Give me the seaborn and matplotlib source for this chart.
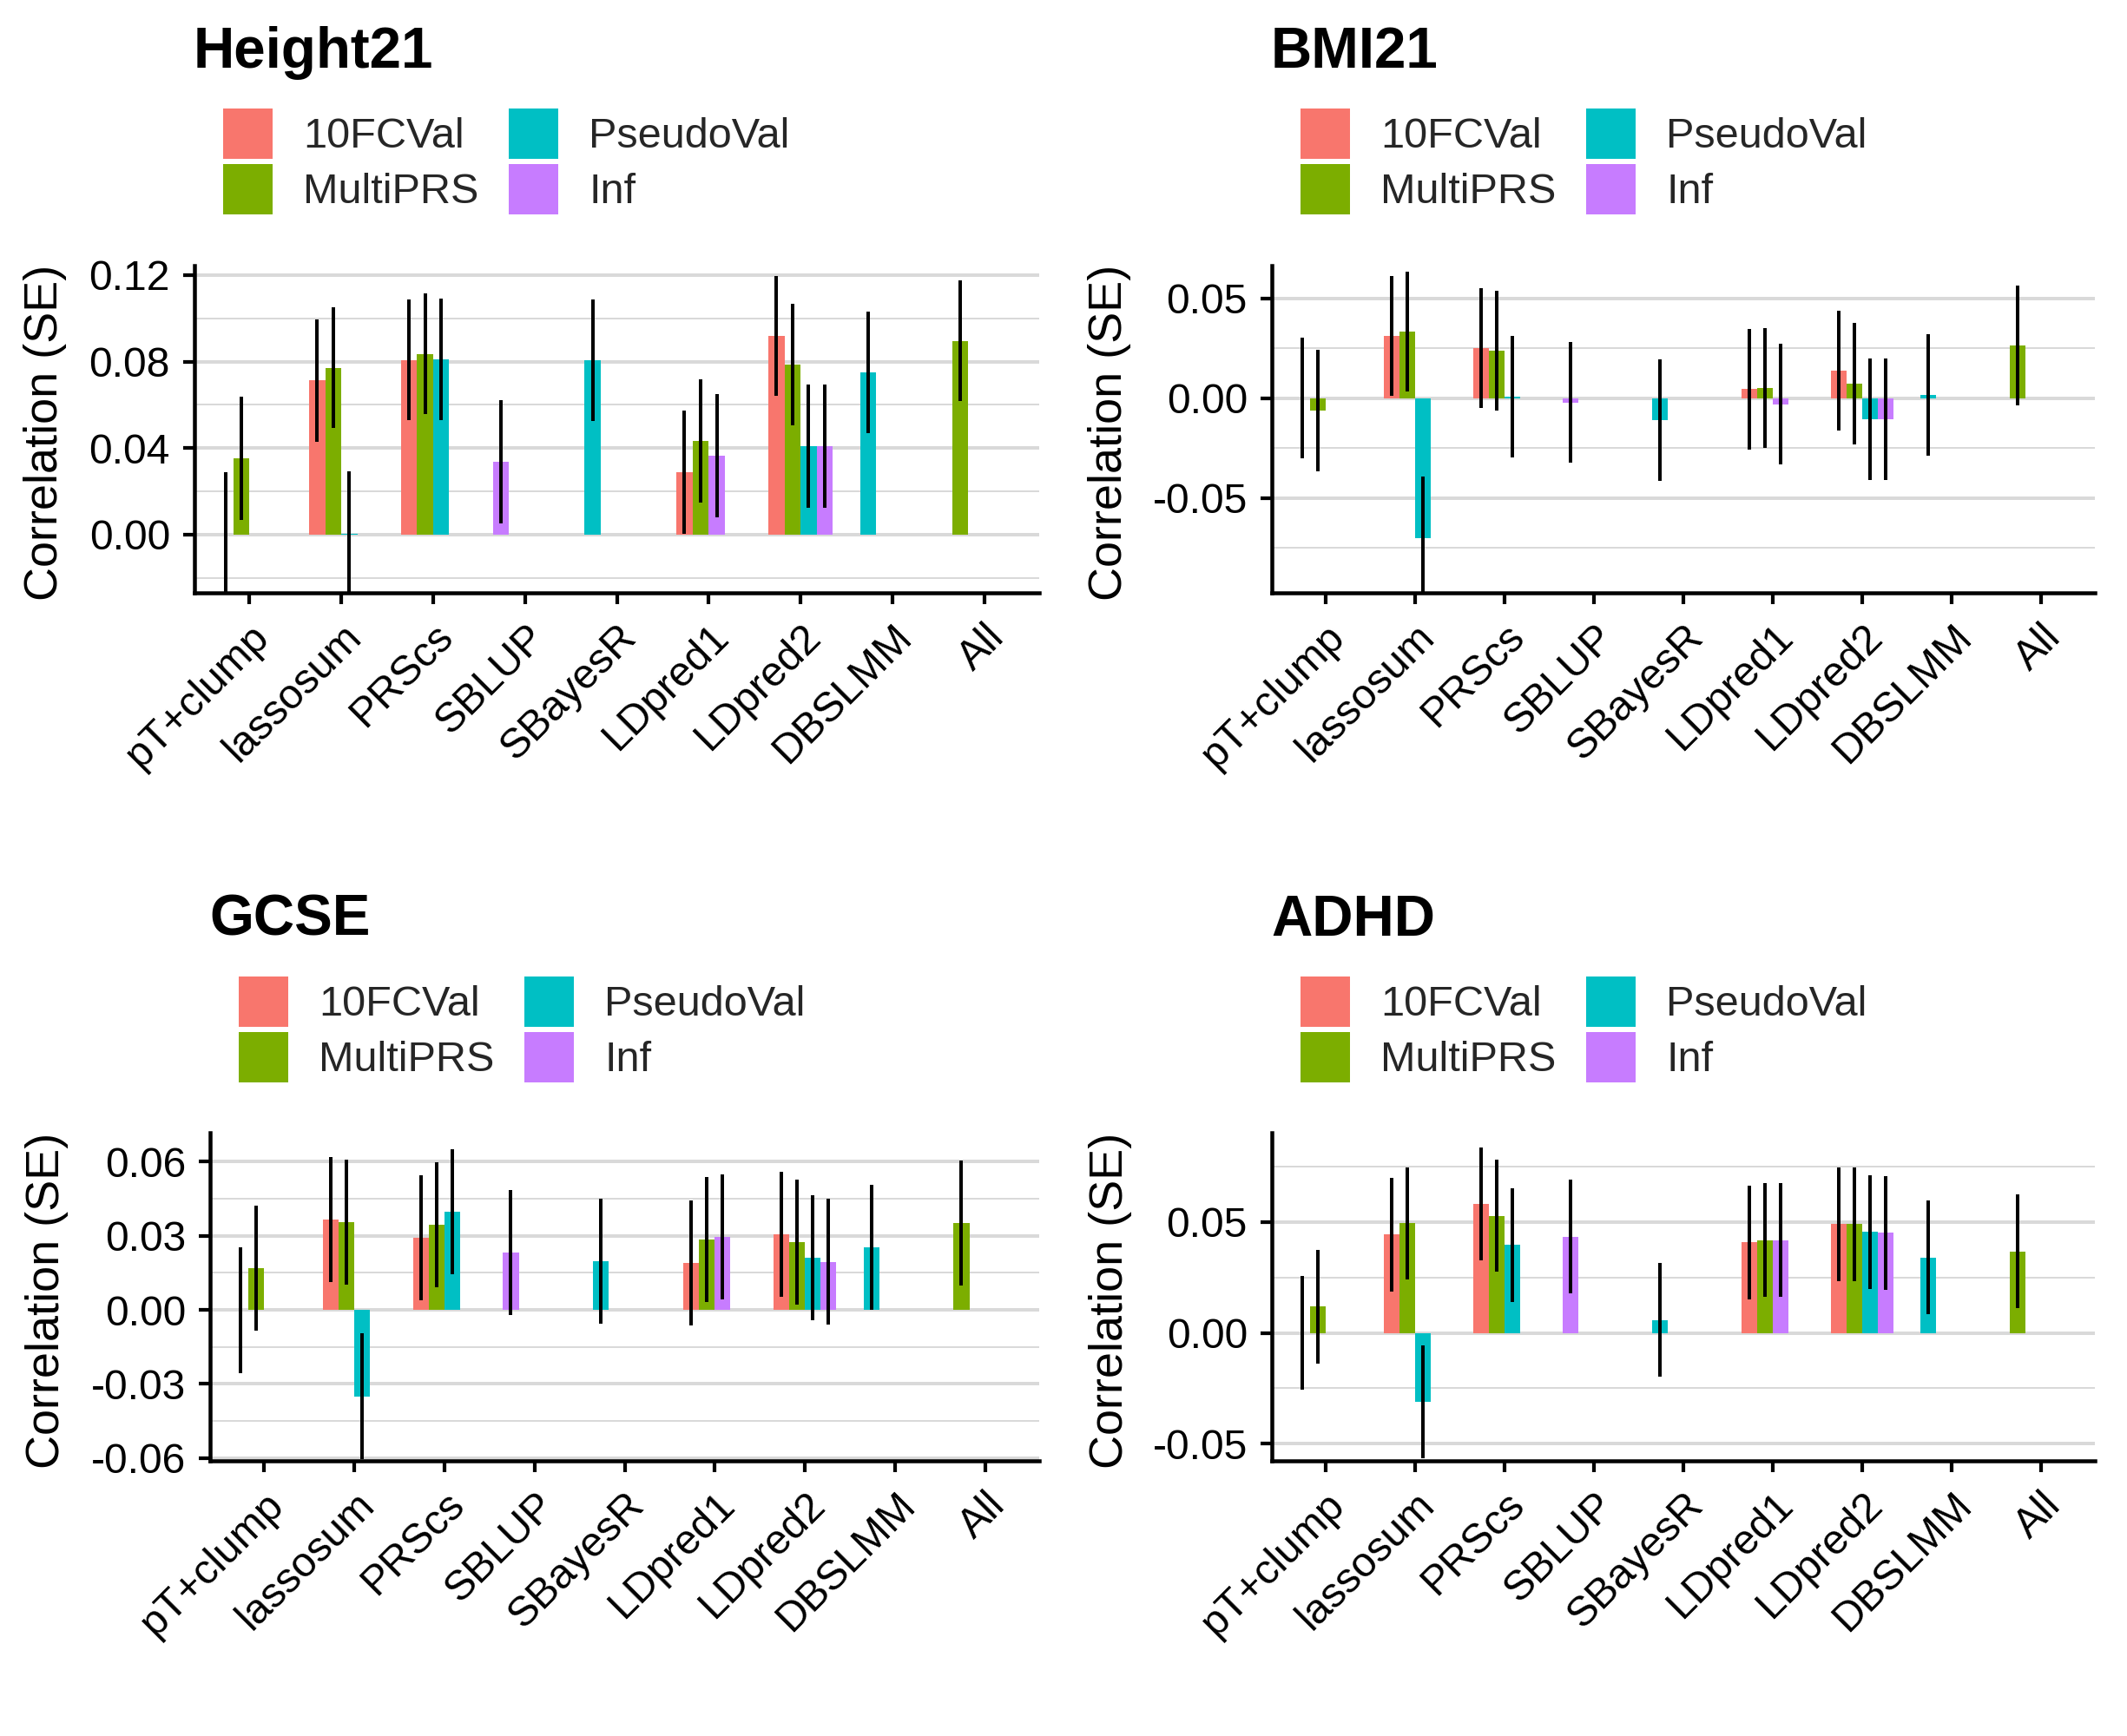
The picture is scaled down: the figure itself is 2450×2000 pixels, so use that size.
import numpy as np
import pandas as pd
import matplotlib
matplotlib.use("Agg")
import matplotlib.pyplot as plt
import matplotlib.transforms as mtransforms
from matplotlib.patches import Patch
from matplotlib.ticker import FuncFormatter
import seaborn as sns

# ---------------- data ----------------
METHODS = ["pT+clump", "lassosum", "PRScs", "SBLUP", "SBayesR",
           "LDpred1", "LDpred2", "DBSLMM", "All"]
GROUPS = ["10FCVal", "MultiPRS", "PseudoVal", "Inf"]
COLORS = ["#F8766D", "#7CAE00", "#00BFC4", "#C77CFF"]

BAR_METHOD = ["pT+clump", "pT+clump",
              "lassosum", "lassosum", "lassosum",
              "PRScs", "PRScs", "PRScs",
              "SBLUP", "SBayesR",
              "LDpred1", "LDpred1", "LDpred1",
              "LDpred2", "LDpred2", "LDpred2", "LDpred2",
              "DBSLMM", "All"]
BAR_GROUP = ["10FCVal", "MultiPRS",
             "10FCVal", "MultiPRS", "PseudoVal",
             "10FCVal", "MultiPRS", "PseudoVal",
             "Inf", "PseudoVal",
             "10FCVal", "MultiPRS", "Inf",
             "10FCVal", "MultiPRS", "PseudoVal", "Inf",
             "PseudoVal", "MultiPRS"]

HEIGHT21_R = [0.0000, 0.0353, 0.0714, 0.0771, 0.0005, 0.0807, 0.0835, 0.0811,
              0.0337, 0.0807, 0.0289, 0.0433, 0.0365, 0.0919, 0.0787, 0.0409,
              0.0409, 0.0750, 0.0895]
HEIGHT21_SE = [0.0290, 0.0286, 0.0283, 0.0279, 0.0287, 0.0279, 0.0279, 0.0280,
               0.0286, 0.0280, 0.0285, 0.0285, 0.0286, 0.0278, 0.0281, 0.0286,
               0.0286, 0.0281, 0.0279]

BMI21_R = [0.0000, -0.0061, 0.0312, 0.0333, -0.0700, 0.0251, 0.0238, 0.0007,
           -0.0022, -0.0109, 0.0046, 0.0051, -0.0030, 0.0138, 0.0072, -0.0104,
           -0.0104, 0.0016, 0.0264]
BMI21_SE = [0.0303, 0.0304, 0.0299, 0.0300, 0.0306, 0.0299, 0.0300, 0.0303,
            0.0303, 0.0304, 0.0302, 0.0302, 0.0303, 0.0302, 0.0303, 0.0304,
            0.0304, 0.0304, 0.0301]

GCSE_R = [0.0000, 0.0169, 0.0366, 0.0355, -0.0350, 0.0293, 0.0345, 0.0397,
          0.0232, 0.0197, 0.0190, 0.0285, 0.0295, 0.0306, 0.0274, 0.0211,
          0.0195, 0.0253, 0.0352]
GCSE_SE = [0.0255, 0.0254, 0.0254, 0.0252, 0.0255, 0.0253, 0.0252, 0.0252,
           0.0254, 0.0253, 0.0254, 0.0253, 0.0254, 0.0253, 0.0253, 0.0253,
           0.0254, 0.0253, 0.0252]

ADHD_R = [0.0000, 0.0119, 0.0443, 0.0494, -0.0311, 0.0581, 0.0529, 0.0396,
          0.0435, 0.0058, 0.0408, 0.0419, 0.0419, 0.0490, 0.0490, 0.0455,
          0.0451, 0.0341, 0.0368]
ADHD_SE = [0.0256, 0.0256, 0.0255, 0.0254, 0.0256, 0.0255, 0.0254, 0.0255,
           0.0255, 0.0257, 0.0256, 0.0255, 0.0255, 0.0256, 0.0256, 0.0256,
           0.0256, 0.0256, 0.0256]

TITLES = ["Height21", "BMI21", "GCSE", "ADHD"]
Y_LABEL = "Correlation (SE)"

# ---------------- layout / style ----------------
W, H, DPI = 2450, 2000, 100
PX = 72.0 / DPI  # points per pixel
DODGE_W = 0.175

sns.set_style("white")
plt.rcParams["font.family"] = ["Liberation Sans", "DejaVu Sans"]
plt.rcParams["axes.unicode_minus"] = False

PANELS = [
    dict(title=TITLES[0], r=HEIGHT21_R, se=HEIGHT21_SE,
         rect=(224, 306, 1197, 683), ylim=(-0.0269, 0.1244),
         major=[0.0, 0.04, 0.08, 0.12], minor=[-0.02, 0.02, 0.06, 0.10],
         ylab_x=52, off_y=0),
    dict(title=TITLES[1], r=BMI21_R, se=BMI21_SE,
         rect=(1465, 306, 2413, 683), ylim=(-0.0975, 0.0664),
         major=[-0.05, 0.0, 0.05], minor=[-0.075, -0.025, 0.025],
         ylab_x=1278, off_y=0),
    dict(title=TITLES[2], r=GCSE_R, se=GCSE_SE,
         rect=(242, 1305, 1197, 1683), ylim=(-0.0611, 0.0717),
         major=[-0.06, -0.03, 0.0, 0.03, 0.06], minor=[-0.045, -0.015, 0.015, 0.045],
         ylab_x=54, off_y=1000),
    dict(title=TITLES[3], r=ADHD_R, se=ADHD_SE,
         rect=(1465, 1305, 2413, 1683), ylim=(-0.0577, 0.0903),
         major=[-0.05, 0.0, 0.05], minor=[-0.025, 0.025, 0.075],
         ylab_x=1279, off_y=1000),
]


def bar_positions():
    pos = []
    for m, g in zip(BAR_METHOD, BAR_GROUP):
        present = [gg for mm, gg in zip(BAR_METHOD, BAR_GROUP) if mm == m]
        ordered = [gg for gg in GROUPS if gg in present]
        rank = ordered.index(g)
        pos.append(round(METHODS.index(m) - 0.35 + DODGE_W * (rank + 0.5), 4))
    return pos


fig = plt.figure(figsize=(W / DPI, H / DPI), dpi=DPI)
fig.patch.set_facecolor("white")

FS_TICK = 48 * PX
FS_LEG = 48.6 * PX
FS_YLAB = 54 * PX
FS_TITLE = 65.5 * PX
GRID_COL = "#d9d9d9"

xpos = bar_positions()
palette = dict(zip(GROUPS, COLORS))
fs_px = FS_LEG / PX
KEY_H = 58.0
handle_h = (KEY_H / fs_px - 0.245) / 0.65

for p in PANELS:
    x0, y0, x1, y1 = p["rect"]
    ax = fig.add_axes([x0 / W, 1 - y1 / H, (x1 - x0) / W, (y1 - y0) / H])
    df = pd.DataFrame({"x": xpos, "r": p["r"], "se": p["se"], "group": BAR_GROUP})

    sns.barplot(data=df, x="x", y="r", hue="group", hue_order=GROUPS,
                palette=palette, native_scale=True, dodge=False, width=1.0,
                errorbar=None, saturation=1, legend=False, linewidth=0,
                edgecolor="none", ax=ax, zorder=2)
    ax.vlines(df["x"], df["r"] - df["se"], df["r"] + df["se"],
              colors="black", linewidth=4 * PX, zorder=3)

    ax.set_xlim(-0.6, len(METHODS) - 1 + 0.6)
    ax.set_ylim(*p["ylim"])
    ax.set_xlabel("")
    ax.set_ylabel("")

    ax.set_yticks(p["major"])
    ax.set_yticks(p["minor"], minor=True)
    ax.yaxis.set_major_formatter(FuncFormatter(lambda v, pos: f"{v:.2f}"))
    ax.set_axisbelow(True)
    ax.grid(False)
    ax.yaxis.grid(True, which="major", color=GRID_COL, linewidth=4 * PX)
    ax.yaxis.grid(True, which="minor", color=GRID_COL, linewidth=2 * PX)
    ax.xaxis.grid(False)

    ax.set_xticks(range(len(METHODS)))
    ax.set_xticklabels(METHODS, rotation=45, ha="right", va="top",
                       rotation_mode="anchor")
    shift = mtransforms.ScaledTranslation(-2 / DPI, 0, fig.dpi_scale_trans)
    for lab in ax.get_xticklabels():
        lab.set_transform(lab.get_transform() + shift)

    ax.tick_params(axis="x", which="major", length=13 * PX, width=4.2 * PX,
                   pad=15 * PX, labelsize=FS_TICK, colors="black", bottom=True)
    ax.tick_params(axis="y", which="major", length=13 * PX, width=4.2 * PX,
                   pad=15 * PX, labelsize=FS_TICK, colors="black", left=True)
    ax.tick_params(axis="y", which="minor", length=0, left=False)

    for side in ["top", "right"]:
        ax.spines[side].set_visible(False)
    for side in ["left", "bottom"]:
        ax.spines[side].set_visible(True)
        ax.spines[side].set_color("black")
        ax.spines[side].set_linewidth(4.5 * PX)

    # y-axis title
    fig.text(p["ylab_x"] / W, 1 - (498 + p["off_y"]) / H, Y_LABEL,
             rotation=90, ha="center", va="center", fontsize=FS_YLAB,
             color="black")
    # panel title
    fig.text((x0 - 1) / W, 1 - (78 + p["off_y"]) / H, p["title"],
             ha="left", va="baseline", fontsize=FS_TITLE, fontweight="bold",
             color="black")

    # legend
    handles = [Patch(facecolor=c, edgecolor="none", label=g)
               for g, c in zip(GROUPS, COLORS)]
    ax.legend(handles=handles, ncol=2, loc="upper left",
              bbox_to_anchor=((x0 + 33) / W, 1 - (125 + p["off_y"]) / H),
              bbox_transform=fig.transFigure, frameon=False,
              fontsize=FS_LEG, borderpad=0, borderaxespad=0,
              handlelength=57 / fs_px, handleheight=handle_h,
              handletextpad=35 / fs_px, labelspacing=6 / fs_px,
              columnspacing=35 / fs_px)

fig.savefig("out.png", dpi=DPI, facecolor="white")
